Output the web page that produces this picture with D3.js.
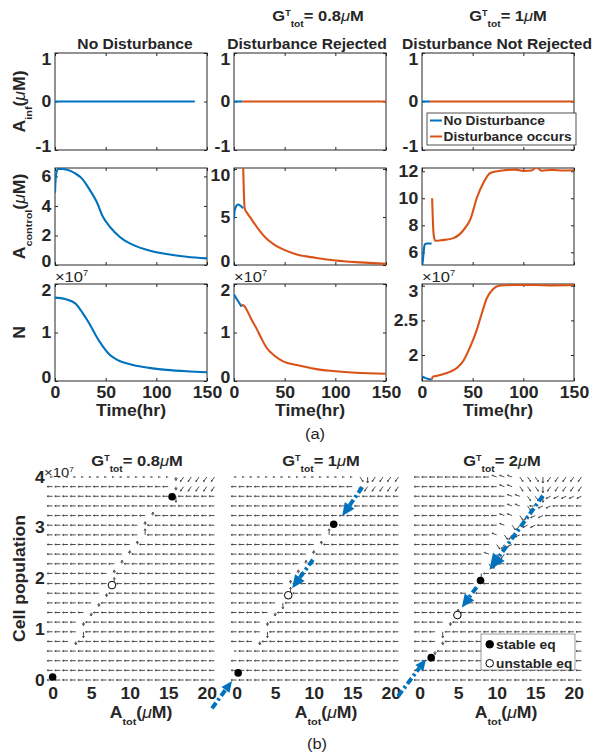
<!DOCTYPE html>
<html>
<head>
<meta charset="utf-8">
<script src="https://cdn.jsdelivr.net/npm/d3@7"></script>
<style>
  body { margin: 0; background: #fff; }
  svg text { font-family: "Liberation Sans", Arial, Helvetica, sans-serif; }
</style>
</head>
<body>
<svg id="fig" width="597" height="756"></svg>
<script>
// ---------- (a) time courses ----------
const timeTicks = [0, 50, 100, 150];
const colTitles = ["No Disturbance", "Disturbance Rejected", "Disturbance Not Rejected"];
const legendNames = ["No Disturbance", "Disturbance occurs"];
const gTotA = ["0.8", "1"];

const infTicks = [-1, 0, 1];
const infNoDistT = [0, 138];
const infNoDistV = [0, 0];
const infBeforeT = [0, 8];
const infBeforeV = [0, 0];
const infAfterT = [8, 150];
const infAfterV = [0, 0];

const ctrlTicks1 = [0, 2, 4, 6];
const ctrlTicks2 = [0, 5, 10];
const ctrlTicks3 = [6, 8, 10, 12];
const ctrlNoDistT = [0, 0.5, 1.5, 3, 7, 12, 20, 26, 31, 36, 41, 47, 54, 64, 77, 94, 110, 130, 150];
const ctrlNoDistV = [4.9, 5.7, 6.3, 6.5, 6.5, 6.45, 6.2, 5.9, 5.45, 4.9, 4.3, 3.3, 2.6, 1.9, 1.36, 0.97, 0.75, 0.56, 0.45];
const ctrlRejBlueT = [0, 0.5, 2, 4, 6, 9];
const ctrlRejBlueV = [4.8, 5.6, 6.1, 6.3, 6.2, 5.9];
const ctrlRejOrangeT = [9, 10.5, 13, 16, 19, 25, 32, 40, 49, 62, 80, 100, 125, 150];
const ctrlRejOrangeV = [10.5, 5.9, 5.4, 4.95, 4.5, 3.6, 2.75, 2.1, 1.6, 1.1, 0.75, 0.47, 0.27, 0.12];
const ctrlNotBlueT = [0, 1, 2, 3, 5, 9.5];
const ctrlNotBlueV = [4.9, 5.5, 6.3, 6.6, 6.65, 6.65];
const ctrlNotOrangeT = [10, 11.5, 13, 20, 31, 41, 48, 54, 61, 67, 74, 82, 92, 100, 108, 113, 118, 128, 140, 150];
const ctrlNotOrangeV = [10.0, 7.3, 6.85, 6.9, 7.05, 7.65, 8.5, 10.0, 11.2, 11.85, 12.0, 12.08, 12.12, 12.03, 12.06, 12.28, 12.04, 12.1, 12.05, 12.07];

// N in units of 1e7
const nTicks1 = [0, 1, 2];
const nTicks3 = [2, 2.5, 3];
const nNoDistT = [0, 10, 20, 27, 34, 40, 47, 54, 62, 77, 93, 110, 130, 150];
const nNoDistV = [1.72, 1.69, 1.6, 1.41, 1.18, 0.95, 0.72, 0.54, 0.43, 0.33, 0.27, 0.23, 0.2, 0.18];
const nRejBlueT = [0, 3, 7.6];
const nRejBlueV = [1.78, 1.68, 1.53];
const nRejOrangeT = [7.6, 10, 13, 17, 22, 27, 32, 40, 49, 62, 80, 95, 120, 150];
const nRejOrangeV = [1.57, 1.55, 1.45, 1.28, 1.09, 0.88, 0.69, 0.52, 0.40, 0.33, 0.25, 0.21, 0.17, 0.15];
const nNotBlueT = [0, 3, 6, 9.5];
const nNotBlueV = [1.69, 1.67, 1.655, 1.645];
const nNotOrangeT = [9.5, 11, 15, 20, 28, 35, 41, 47, 54, 59, 64, 70, 76, 90, 110, 130, 150];
const nNotOrangeV = [1.645, 1.69, 1.70, 1.72, 1.76, 1.82, 1.92, 2.1, 2.36, 2.6, 2.82, 2.95, 3.0, 3.01, 3.01, 3.005, 3.01];

// ---------- (b) phase planes ----------
const gTotB = ["0.8", "1", "2"];
const aTotTicks = [0, 5, 10, 15, 20];
const popTicks = [0, 1, 2, 3, 4];
const eqNames = ["stable eq", "unstable eq"];
const quiverX = [0, 1, 2, 3, 4, 5, 6, 7, 8, 9, 10, 11, 12, 13, 14, 15, 16, 17, 18, 19, 20, 21];
const quiverY = [0, 0.19, 0.38, 0.57, 0.76, 0.95, 1.14, 1.33, 1.52, 1.71, 1.9, 2.1, 2.29, 2.48, 2.67, 2.86, 3.05, 3.24, 3.43, 3.62, 3.81, 4.0];

// arrow glyphs read row by row, top row first
const quiverG08 = [
  "................v/////",
  "----------------v/////",
  "----------------|-----",
  "----------------------",
  "-------------^--------",
  "------------^---------",
  "------------!---------",
  "-----------^----------",
  "----------^-----------",
  "---------^------------",
  "--------^-------------",
  "--------!-------------",
  "-------v--------------",
  "------v---------------",
  "-----v----------------",
  "----v-----------------",
  "----|-----------------",
  "---v------------------",
  "----------------------",
  "----------------------",
  "----------------------",
  "----------------------"
];
const quiverG1 = [
  "................k|////",
  "----------------v/////",
  "----------------------",
  "----------------------",
  "----------------------",
  "----------------------",
  "------------!---------",
  "-----------^----------",
  "----------^-----------",
  "---------^------------",
  "--------^-------------",
  "-------^--------------",
  "-------!--------------",
  "------|---------------",
  "-----v----------------",
  "----v-----------------",
  "----|-----------------",
  "---v------------------",
  ".---------------------",
  "----------------------",
  "----------------------",
  "----------------------"
];
const quiverG2 = [
  "----------bbbkkk|/////",
  "-----------bbkkk|/////",
  "------------bbkk|ppppp",
  "------------bbk-pp----",
  "-----------bbk/pp-----",
  "-----------bk/pp------",
  "----------bk/p--------",
  "----------k/p---------",
  "---------bk/----------",
  "---------k/-----------",
  "--------|-------------",
  "--------!-------------",
  "-------^--------------",
  "------^---------------",
  "-----^----------------",
  "----v-----------------",
  "---|------------------",
  "---v------------------",
  "--v-------------------",
  "----------------------",
  "----------------------",
  "----------------------"
];

const stableG08 = [[0, 0.06], [15.5, 3.61]];
const unstableG08 = [[7.7, 1.87]];
const stableG1 = [[0.2, 0.14], [12.6, 3.07]];
const unstableG1 = [[6.7, 1.67]];
const stableG2 = [[1.5, 0.44], [7.9, 1.96]];
const unstableG2 = [[4.9, 1.28]];

const trajG1 = [[[16.3, 3.80], [13.7, 3.23]], [[9.9, 2.37], [7.2, 1.81]]];
const trajG2 = [[[16.0, 3.63], [9.06, 2.17]], [[7.4, 1.83], [5.47, 1.43]]];
const crossG1 = [[-3.2, -0.56], [-0.6, -0.02]];
const crossG2 = [[-2.8, -0.32], [0.83, 0.41]];

// ---------- drawing ----------
const svg = d3.select("#fig");
const INK = "#262626", BLUE = "#0072BD", ORANGE = "#D95319", ARROW = "#4f4f4f";
const SX = 1.1;

svg.append("rect").attr("width", 597).attr("height", 756).attr("fill", "#fff");

function rich(parent, x, y, parts, o = {}) {
  const size = o.size || 16;
  const t = parent.append("text")
    .attr("transform", `translate(${x},${y})${o.rot ? ` rotate(${o.rot})` : ""} scale(${SX},1)`)
    .attr("text-anchor", o.anchor || "middle")
    .attr("font-size", size)
    .attr("font-weight", o.weight || "bold")
    .attr("fill", o.fill || INK);
  let cur = 0;
  parts.forEach(([s, k]) => {
    let off = 0, fs = size;
    if (k === "sup") { off = -0.36 * size; fs = 0.55 * size; }
    if (k === "sub") { off = 0.42 * size; fs = 0.62 * size; }
    const sp = t.append("tspan").attr("dy", off - cur).attr("font-size", fs).text(s);
    if (k === "mu") sp.attr("font-style", "italic").attr("font-weight", "normal");
    cur = off;
  });
  return t;
}
const plain = s => [[s, "n"]];
const gLabel = v => [["G", "n"], ["T", "sup"], ["tot", "sub"], ["= " + v, "n"], ["μ", "mu"], ["M", "n"]];
const expLabel = [["×10", "n"], ["7", "sup"]];

function styleAxis(a, labels) {
  a.attr("font-size", null).attr("font-family", null);
  a.select(".domain").remove();
  a.selectAll(".tick line").attr("stroke", INK);
  if (!labels) a.selectAll(".tick text").remove();
  else a.selectAll(".tick text")
    .attr("fill", INK).attr("font-size", 16).attr("font-weight", "bold")
    .attr("transform", `scale(${SX},1)`);
  return a;
}

// ----- part (a) -----
const AW = 152, AH = 97;
const colX = [55, 234, 422], rowY = [53, 168, 284];
const xT = d3.scaleLinear().domain([0, 150]).range([0, AW]);

const panelsA = [
  { r: 0, c: 0, dom: [-1, 1], ticks: infTicks, series: [[infNoDistT, infNoDistV, BLUE]] },
  { r: 0, c: 1, dom: [-1, 1], ticks: infTicks, series: [[infBeforeT, infBeforeV, BLUE], [infAfterT, infAfterV, ORANGE]] },
  { r: 0, c: 2, dom: [-1, 1], ticks: infTicks, series: [[infBeforeT, infBeforeV, BLUE], [infAfterT, infAfterV, ORANGE]] },
  { r: 1, c: 0, dom: [0, 6.57], ticks: ctrlTicks1, series: [[ctrlNoDistT, ctrlNoDistV, BLUE]] },
  { r: 1, c: 1, dom: [0, 10.1], ticks: ctrlTicks2, series: [[ctrlRejBlueT, ctrlRejBlueV, BLUE], [ctrlRejOrangeT, ctrlRejOrangeV, ORANGE]] },
  { r: 1, c: 2, dom: [5.06, 12.24], ticks: ctrlTicks3, series: [[ctrlNotBlueT, ctrlNotBlueV, BLUE], [ctrlNotOrangeT, ctrlNotOrangeV, ORANGE]] },
  { r: 2, c: 0, dom: [0, 2], ticks: nTicks1, series: [[nNoDistT, nNoDistV, BLUE]] },
  { r: 2, c: 1, dom: [0, 2], ticks: nTicks1, series: [[nRejBlueT, nRejBlueV, BLUE], [nRejOrangeT, nRejOrangeV, ORANGE]] },
  { r: 2, c: 2, dom: [1.625, 3.025], ticks: nTicks3, series: [[nNotBlueT, nNotBlueV, BLUE], [nNotOrangeT, nNotOrangeV, ORANGE]] }
];

panelsA.forEach((p, i) => {
  const g = svg.append("g").attr("transform", `translate(${colX[p.c]},${rowY[p.r]})`);
  const y = d3.scaleLinear().domain(p.dom).range([AH, 0]);
  const clipId = "clipA" + i;
  g.append("clipPath").attr("id", clipId).append("rect").attr("width", AW).attr("height", AH);

  g.append("rect").attr("width", AW).attr("height", AH)
    .attr("fill", "none").attr("stroke", INK).attr("stroke-width", 1);

  styleAxis(g.append("g").attr("transform", `translate(0,${AH})`)
    .call(d3.axisBottom(xT).tickValues(timeTicks).tickSize(-3).tickPadding(6)), p.r === 2);
  styleAxis(g.append("g").call(d3.axisTop(xT).tickValues(timeTicks).tickSize(-3)), false);
  const yl = styleAxis(g.append("g")
    .call(d3.axisLeft(y).tickValues(p.ticks).tickSize(-3).tickPadding(3.5).tickFormat(d => String(d))), true);
  // labels sitting on the box edge are pulled inward, as in the original
  yl.selectAll(".tick text").attr("y", d => y(d) < 3 ? 6 : y(d) > AH - 3 ? -4 : 0);
  styleAxis(g.append("g").attr("transform", `translate(${AW},0)`)
    .call(d3.axisRight(y).tickValues(p.ticks).tickSize(-3)), false);

  const line = d3.line().x(d => xT(d[0])).y(d => y(d[1])).curve(d3.curveMonotoneX);
  p.series.forEach(([t, v, col]) => {
    g.append("path").attr("clip-path", `url(#${clipId})`)
      .attr("d", line(d3.zip(t, v)))
      .attr("fill", "none").attr("stroke", col).attr("stroke-width", 2.1);
  });

  if (p.r === 2) rich(g, 0, -2.5, expLabel, { size: 15, anchor: "start", weight: "normal" });
  if (p.r === 2) rich(g, AW / 2, 132, plain("Time(hr)"), { size: 16 });
  if (p.r === 0) rich(g, AW / 2 + (p.c === 0 ? 4 : p.c === 1 ? -3 : -1), -4, plain(colTitles[p.c]), { size: 14.2 });
});

// column group titles
rich(svg, 318, 21, gLabel(gTotA[0]), { size: 15 });
rich(svg, 508, 21, gLabel(gTotA[1]), { size: 15 });

// row labels
rich(svg, 25, rowY[0] + AH / 2, [["A", "n"], ["inf", "sub"], ["(", "n"], ["μ", "mu"], ["M)", "n"]], { size: 16, rot: -90 });
rich(svg, 25, rowY[1] + AH / 2, [["A", "n"], ["control", "sub"], ["(", "n"], ["μ", "mu"], ["M)", "n"]], { size: 16, rot: -90 });
rich(svg, 25, rowY[2] + AH / 2, plain("N"), { size: 16, rot: -90 });

// legend (a)
const lgA = svg.append("g").attr("transform", "translate(427,113)");
lgA.append("rect").attr("width", 149).attr("height", 32)
  .attr("fill", "#fff").attr("stroke", INK).attr("stroke-width", 0.8);
[BLUE, ORANGE].forEach((col, i) => {
  const yy = 7.5 + i * 16;
  lgA.append("line").attr("x1", 3).attr("x2", 15).attr("y1", yy).attr("y2", yy)
    .attr("stroke", col).attr("stroke-width", 2);
  rich(lgA, 16.5, yy + 4.5, plain(legendNames[i]), { size: 12.5, anchor: "start" });
});

rich(svg, 315, 439, plain("(a)"), { size: 15, weight: "normal" });

// ----- part (b) -----
const BW = 168, BTOP = 477, BBOT = 680;
const yP = d3.scaleLinear().domain([0, 4]).range([BBOT, BTOP]);
const arrowSpec = {
  "-": [180, 5.5, 1.5], ".": [180, 2.2, 0.8],
  "^": [90, 3.5, 2.6], "v": [270, 3.5, 2.6],
  "!": [90, 6, 2], "|": [270, 6, 2],
  "/": [235, 5.5, 1.5], "k": [305, 5.5, 1.5],
  "b": [160, 5, 1.5], "p": [205, 5, 1.5]
};

const panelsB = [
  { left: 48, g: gTotB[0], field: quiverG08, stable: stableG08, unstable: unstableG08, traj: [], yLabels: true, lblDx: 9 },
  { left: 232, g: gTotB[1], field: quiverG1, stable: stableG1, unstable: unstableG1, traj: trajG1, cross: crossG1, lblDx: 10 },
  { left: 415, g: gTotB[2], field: quiverG2, stable: stableG2, unstable: unstableG2, traj: trajG2, cross: crossG2, lblDx: 7, legend: true }
];

function trajArrow(g, x, p0, p1, head) {
  const x0 = x(p0[0]), y0 = yP(p0[1]), x1 = x(p1[0]), y1 = yP(p1[1]);
  const L = Math.hypot(x1 - x0, y1 - y0), ux = (x1 - x0) / L, uy = (y1 - y0) / L;
  const bx = x1 - ux * head, by = y1 - uy * head, w = head * 0.45;
  g.append("line").attr("x1", x0).attr("y1", y0).attr("x2", bx).attr("y2", by)
    .attr("stroke", BLUE).attr("stroke-width", 4).attr("stroke-dasharray", "7,3,2.5,3");
  g.append("path")
    .attr("d", `M${x1},${y1}L${bx - uy * w},${by + ux * w}L${bx + uy * w},${by - ux * w}Z`)
    .attr("fill", BLUE);
}

panelsB.forEach(p => {
  const x = d3.scaleLinear().domain([-0.6, 21.2]).range([p.left, p.left + BW]);
  const g = svg.append("g");

  // quiver field
  let d = "";
  p.field.forEach((row, i) => {
    const yv = quiverY[quiverY.length - 1 - i];
    row.padEnd(quiverX.length, "-").split("").forEach((ch, j) => {
      const [ang, len, hs] = arrowSpec[ch] || arrowSpec["-"];
      const a = ang * Math.PI / 180;
      const x0 = x(quiverX[j]), y0 = yP(yv);
      const x1 = x0 + len * Math.cos(a), y1 = y0 - len * Math.sin(a);
      d += `M${x0.toFixed(2)},${y0.toFixed(2)}L${x1.toFixed(2)},${y1.toFixed(2)}`;
      [-0.5, 0.5].forEach(s => {
        const b = a + Math.PI + s;
        d += `M${x1.toFixed(2)},${y1.toFixed(2)}L${(x1 + hs * Math.cos(b)).toFixed(2)},${(y1 - hs * Math.sin(b)).toFixed(2)}`;
      });
    });
  });
  g.append("path").attr("d", d).attr("fill", "none").attr("stroke", ARROW).attr("stroke-width", 1);

  // trajectories
  p.traj.forEach((t, k) => trajArrow(g, x, t[0], t[1], k === 0 && p.legend ? 16 : 13));
  if (p.cross) trajArrow(g, x, p.cross[0], p.cross[1], 11);

  // equilibria
  g.selectAll(null).data(p.stable).join("circle")
    .attr("cx", e => x(e[0])).attr("cy", e => yP(e[1])).attr("r", 3.8).attr("fill", "#000");
  g.selectAll(null).data(p.unstable).join("circle")
    .attr("cx", e => x(e[0])).attr("cy", e => yP(e[1])).attr("r", 3.8)
    .attr("fill", "#fff").attr("stroke", "#000").attr("stroke-width", 1);

  // axes labels
  styleAxis(g.append("g").attr("transform", `translate(0,${BBOT})`)
    .call(d3.axisBottom(x).tickValues(aTotTicks).tickSize(0).tickPadding(7.6)), true);
  if (p.yLabels) {
    styleAxis(g.append("g").attr("transform", `translate(${p.left},0)`)
      .call(d3.axisLeft(yP).tickValues(popTicks).tickSize(0).tickPadding(3).tickFormat(d => String(d))), true);
    rich(g, p.left - 4, BTOP, expLabel, { size: 13.5, anchor: "start", weight: "normal" });
  }
  rich(g, p.left + BW / 2 + p.lblDx, 718, [["A", "n"], ["tot", "sub"], ["(", "n"], ["μ", "mu"], ["M)", "n"]], { size: 16 });
  rich(g, p.left + BW / 2 + (p.legend ? 3 : 5), 466, gLabel(p.g), { size: 15 });

  if (p.legend) {
    const lg = g.append("g").attr("transform", "translate(481,634)");
    lg.append("rect").attr("width", 94).attr("height", 36)
      .attr("fill", "#fff").attr("stroke", "#7f7f7f").attr("stroke-width", 0.8);
    eqNames.forEach((nm, i) => {
      const cy = 10.3 + i * 19;
      lg.append("circle").attr("cx", 8.7).attr("cy", cy).attr("r", 3.8)
        .attr("fill", i === 0 ? "#000" : "#fff").attr("stroke", "#000").attr("stroke-width", 1);
      rich(lg, 15, cy + 4.3, plain(nm), { size: 12.5, anchor: "start" });
    });
  }
});

rich(svg, 25, (BTOP + BBOT) / 2, plain("Cell population"), { size: 16, rot: -90 });
rich(svg, 317, 749, plain("(b)"), { size: 15, weight: "normal" });
</script>
</body>
</html>
